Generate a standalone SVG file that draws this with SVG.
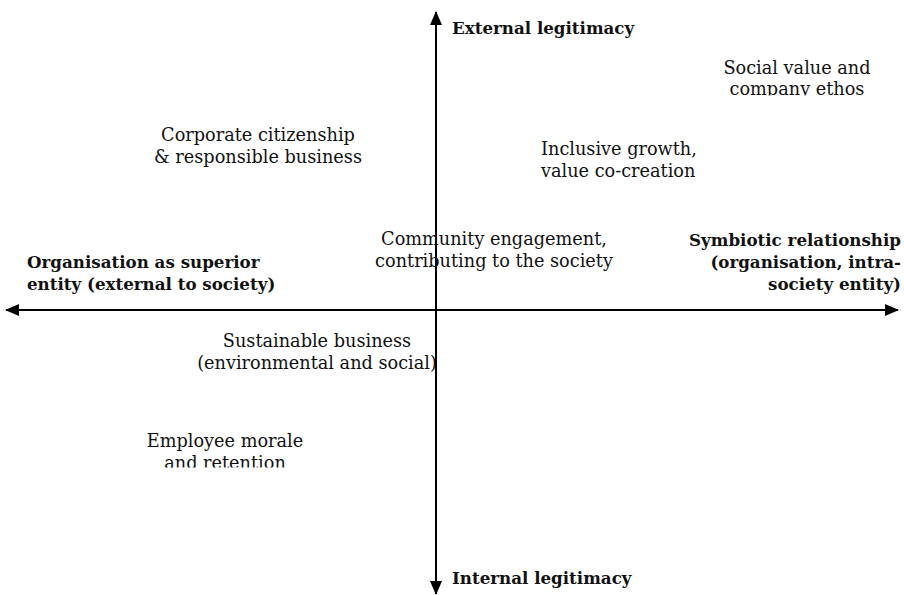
<svg xmlns="http://www.w3.org/2000/svg" width="904" height="595" viewBox="0 0 904 595">
  <style>
    .t { font-family: "DejaVu Serif", "Liberation Serif", serif; font-size: 17.7px; fill: #111; }
    .b { font-weight: bold; font-size: 16.7px; }
    .axis { stroke: #000; stroke-width: 2; fill: none; }
  </style>
  <defs>
    <marker id="arrow" viewBox="0 0 14 12" refX="13" refY="6" markerWidth="14" markerHeight="12" markerUnits="userSpaceOnUse" orient="auto-start-reverse">
      <path d="M0,0 L14,6 L0,12 z" fill="#000"/>
    </marker>
    <clipPath id="clipTop"><rect x="0" y="0" width="904" height="95.5"/></clipPath>
    <clipPath id="clipLow"><rect x="0" y="0" width="904" height="467.5"/></clipPath>
  </defs>
  <rect width="904" height="595" fill="#fff"/>

  <g id="connectors">
    <line class="axis" x1="436" y1="594" x2="436" y2="12" marker-start="url(#arrow)" marker-end="url(#arrow)"/>
    <line class="axis" x1="6" y1="310" x2="898" y2="310" marker-start="url(#arrow)" marker-end="url(#arrow)"/>
  </g>

  <g id="axis-top"><text class="t b" x="452" y="34">External legitimacy</text></g>
  <g id="axis-bottom"><text class="t b" x="452" y="584">Internal legitimacy</text></g>
  <g id="axis-left">
    <text class="t b" x="27" y="268">Organisation as superior</text>
    <text class="t b" x="27" y="290">entity (external to society)</text>
  </g>
  <g id="axis-right" text-anchor="end">
    <text class="t b" x="901" y="246">Symbiotic relationship</text>
    <text class="t b" x="901" y="268">(organisation, intra-</text>
    <text class="t b" x="901" y="290">society entity)</text>
  </g>

  <g id="social-value" text-anchor="middle" clip-path="url(#clipTop)">
    <text class="t" x="797" y="74">Social value and</text>
    <text class="t" x="797" y="95">company ethos</text>
  </g>
  <g id="corporate-citizenship" text-anchor="middle">
    <text class="t" x="258" y="141">Corporate citizenship</text>
    <text class="t" x="258" y="163">&amp; responsible business</text>
  </g>
  <g id="inclusive-growth">
    <text class="t" x="541" y="155">Inclusive growth,</text>
    <text class="t" x="541" y="177">value co-creation</text>
  </g>
  <g id="community-engagement" text-anchor="middle">
    <text class="t" x="494" y="245">Community engagement,</text>
    <text class="t" x="494" y="267">contributing to the society</text>
  </g>
  <g id="sustainable-business" text-anchor="middle">
    <text class="t" x="317" y="347">Sustainable business</text>
    <text class="t" x="317" y="369">(environmental and social)</text>
  </g>
  <g id="employee-morale" text-anchor="middle" clip-path="url(#clipLow)">
    <text class="t" x="225" y="447">Employee morale</text>
    <text class="t" x="225" y="469">and retention</text>
  </g>
</svg>
